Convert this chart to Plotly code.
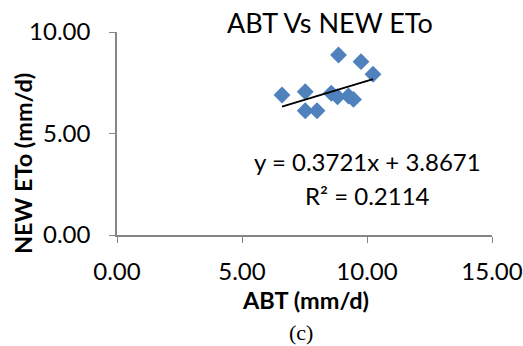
import plotly.graph_objects as go

abt = [6.60, 7.53, 7.53, 8.00, 8.86, 9.76, 10.24, 8.57, 8.82, 9.26, 9.46]
new_eto = [6.90, 7.06, 6.12, 6.12, 8.87, 8.54, 7.92, 6.98, 6.81, 6.85, 6.68]
slope = 0.3721
intercept = 3.8671
r2 = 0.2114
xtick_vals = [0, 5, 10, 15]
ytick_vals = [0, 5, 10]
title_text = "ABT Vs NEW ETo"
xtitle = "ABT (mm/d)"
ytitle = "NEW ETo (mm/d)"
caption = "(c)"

W, H = 523, 346
L, R, T, B = 117, 31, 32, 111
PW, PH = W - L - R, H - T - B


def px(x, y):
    return (x - L) / PW, (H - B - y) / PH


xmin, xmax = min(abt), max(abt)
trend_x = [xmin, xmax]
trend_y = [slope * v + intercept for v in trend_x]

FONT = "Lato, Open Sans, sans-serif"

fig = go.Figure()
fig.add_trace(go.Scatter(x=abt, y=new_eto, mode="markers",
                         marker=dict(symbol="diamond", size=13, color="#4F81BD"),
                         showlegend=False, cliponaxis=False))
fig.add_trace(go.Scatter(x=trend_x, y=trend_y, mode="lines",
                         line=dict(color="black", width=2), showlegend=False))

axis_common = dict(showgrid=False, zeroline=False, showline=True, linecolor="#868686",
                   linewidth=1.5, ticks="outside", ticklen=6, tickcolor="#868686",
                   automargin=False,
                   tickformat=".2f", tickfont=dict(family=FONT, size=24, color="black"))

def ann(text, x, y, size, family=FONT, angle=0):
    xp, yp = px(x, y)
    return dict(text=text, x=xp, y=yp, xref="paper", yref="paper", showarrow=False,
                xanchor="center", yanchor="middle", textangle=angle,
                font=dict(family=family, size=size, color="black"))

fig.update_layout(
    width=W, height=H,
    margin=dict(l=L, r=R, t=T, b=B, autoexpand=False),
    paper_bgcolor="white", plot_bgcolor="white",
    xaxis=dict(range=[0, 15], tickvals=xtick_vals, ticklabelstandoff=8, **axis_common),
    yaxis=dict(range=[0, 10], tickvals=ytick_vals, ticklabelstandoff=14, **axis_common),
    annotations=[
        ann(title_text, 330, 23, 27),
        ann(f"y = {slope}x + {intercept}", 367, 161, 24),
        ann(f"R² = {r2}", 367, 195, 24),
        ann(f"<b>{xtitle}</b>", 305, 300, 23.5),
        ann(f"<b>{ytitle}</b>", 23, 164, 23.5, angle=-90),
        ann(caption, 301, 332, 22, family="Liberation Serif, Times New Roman, serif"),
    ],
)

fig.write_html("out.html")
